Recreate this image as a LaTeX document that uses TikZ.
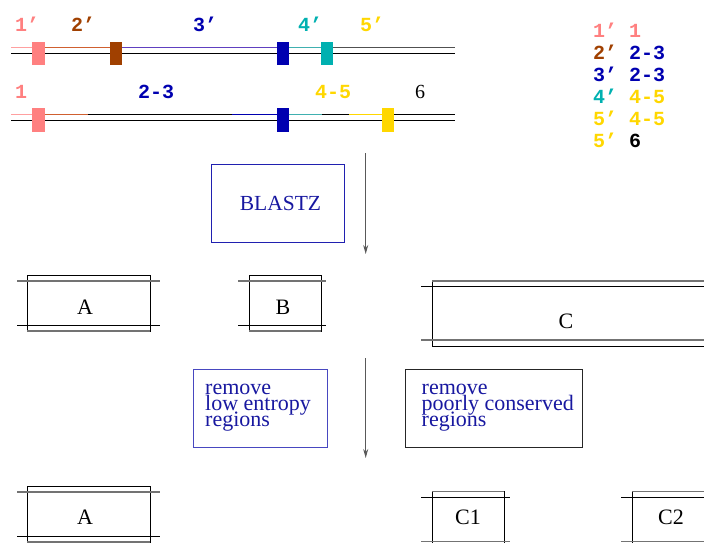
\documentclass[tikz,border=0pt]{standalone}
\usepackage{fontspec}
\setmainfont{Liberation Serif}
\newfontfamily\monofam{Liberation Mono}
\usetikzlibrary{arrows.meta}
\definecolor{cpink}{HTML}{FF8080}
\definecolor{cpinkl}{HTML}{FFA0A0}
\definecolor{cbrown}{HTML}{A04000}
\definecolor{corange}{HTML}{D06030}
\definecolor{cblue}{HTML}{0000B0}
\definecolor{cpurple}{HTML}{6040C0}
\definecolor{cteal}{HTML}{00B0B0}
\definecolor{ctealline}{HTML}{40B0B0}
\definecolor{cgold}{HTML}{FFD700}
\definecolor{cdgray}{HTML}{505050}
\definecolor{txtblue}{HTML}{1818A0}
\definecolor{boxblue}{HTML}{2020B0}
\definecolor{boxblue2}{HTML}{4848C0}
\begin{document}
\begin{tikzpicture}[x=1pt,y=-1pt,
  lbl/.style={font=\monofam\bfseries\fontsize{20}{20}\selectfont, anchor=base west, inner sep=0pt},
  sertxt/.style={font=\fontsize{22}{22}\selectfont, inner sep=0pt},
  seg/.style={line width=1pt},
  blk/.style={fill, inner sep=0pt, minimum width=12.5pt, minimum height=23.3pt},
  thinbox/.style={draw=black, line width=0.8pt, inner sep=0pt},
  grayline/.style={draw=black!55, line width=1.4pt},
  blackline/.style={draw=black, line width=0.8pt},
  flowarrow/.style={draw=black!65, line width=1.1pt, -{Stealth[length=9pt,width=5pt]}},
  procbox/.style={line width=0.9pt, inner sep=0pt},
  proctxt/.style={font={\fontsize{22}{16}\selectfont\lineskiplimit=-50pt}, text=txtblue, align=left, anchor=west, inner sep=0pt}
]
\path[use as bounding box] (0,0) rectangle (704,543);
\clip (0,0) rectangle (704,543);

% ---------------- sequence 1 ----------------
\draw[seg, black] (11,53.3) -- (455,53.3);
\draw[seg, cpinkl] (11,47.7) -- (33,47.7);
\draw[seg, corange] (44,47.7) -- (110,47.7);
\draw[seg, cpurple] (122,47.7) -- (277,47.7);
\draw[seg, ctealline] (289,47.7) -- (321,47.7);
\draw[seg, cdgray] (333,47.7) -- (455,47.7);
\node[blk, fill=cpink] (m1) at (38.7,53.3) {};
\node[blk, fill=cbrown] (m2) at (116.2,53.3) {};
\node[blk, fill=cblue] (m3) at (283,53.3) {};
\node[blk, fill=cteal] (m4) at (327,53.3) {};
\node[lbl, text=cpink] (l1) at (15,32) {1’};
\node[lbl, text=cbrown] (l2) at (71,32) {2’};
\node[lbl, text=cblue] (l3) at (193,32) {3’};
\node[lbl, text=cteal] (l4) at (298,32) {4’};
\node[lbl, text=cgold] (l5) at (360,32) {5’};

% ---------------- sequence 2 ----------------
\draw[seg, black] (11,120) -- (455,120);
\draw[seg, cpinkl] (11,114.3) -- (33,114.3);
\draw[seg, corange] (44,114.3) -- (88,114.3);
\draw[seg, black] (88,114.3) -- (232,114.3);
\draw[seg, cblue] (232,114.3) -- (277,114.3);
\draw[seg, ctealline] (289,114.3) -- (322,114.3);
\draw[seg, black] (322,114.3) -- (349,114.3);
\draw[seg, cgold] (349,114.3) -- (382,114.3);
\draw[seg, black] (394,114.3) -- (455,114.3);
\node[blk, fill=cpink] (n1) at (38.7,120) {};
\node[blk, fill=cblue] (n3) at (283,120) {};
\node[blk, fill=cgold] (n5) at (388,120) {};
\node[lbl, text=cpink] (k1) at (15,99) {1};
\node[lbl, text=cblue] (k23) at (138,99) {2-3};
\node[lbl, text=cgold] (k45) at (315,99) {4-5};
\node[font=\fontsize{20}{20}\selectfont, anchor=base west, inner sep=0pt] (k6) at (415,99) {6};

% ---------------- legend ----------------
\node[lbl] (g1) at (593,37.3) {\textcolor{cpink}{1’ 1}};
\node[lbl] (g2) at (593,59.3) {\textcolor{cbrown}{2’} \textcolor{cblue}{2-3}};
\node[lbl] (g3) at (593,81.3) {\textcolor{cblue}{3’ 2-3}};
\node[lbl] (g4) at (593,103.3) {\textcolor{cteal}{4’} \textcolor{cgold}{4-5}};
\node[lbl] (g5) at (593,125.3) {\textcolor{cgold}{5’ 4-5}};
\node[lbl] (g6) at (593,147.3) {\textcolor{cgold}{5’} \textcolor{black}{6}};

% ---------------- BLASTZ ----------------
\node[procbox, draw=boxblue, minimum width=133pt, minimum height=78pt, text=txtblue, font=\fontsize{21.5}{21.5}\selectfont] (blastz) at (277.5,203) {\hspace*{6pt}BLASTZ};
\coordinate (a1s) at (365.7,153);
\coordinate (a1e) at (365.7,254);
\draw[flowarrow] (a1s) -- (a1e);

% ---------------- row A B C ----------------
\node[thinbox, minimum width=123pt, minimum height=56pt] (bA) at (88.5,303) {};
\draw[grayline] (17,281) -- (160,281);
\draw[blackline] (17,325) -- (160,325);
\draw[grayline] (27,331) -- (150,331);
\node[sertxt] (tA) at (85,307) {A};

\node[thinbox, minimum width=72pt, minimum height=56pt] (bB) at (285,303) {};
\draw[grayline] (238,281) -- (326,281);
\draw[blackline] (238,325) -- (326,325);
\draw[grayline] (249,331) -- (321,331);
\node[sertxt] (tB) at (283,307) {B};

\node[thinbox, minimum width=288pt, minimum height=65pt] (bC) at (576,313.5) {};
\draw[grayline] (432,281) -- (704,281);
\draw[blackline] (421,286) -- (704,286);
\draw[grayline] (421,340) -- (704,340);
\node[sertxt] (tC) at (566,321.7) {C};

% ---------------- filters ----------------
\node[procbox, draw=boxblue2, minimum width=134pt, minimum height=78pt] (lowent) at (260,408) {};
\node[proctxt] (lowtxt) at (205,408) {remove\\low entropy\\regions};
\node[procbox, draw=black!85, minimum width=177pt, minimum height=78pt] (poor) at (493.5,408) {};
\node[proctxt] (poortxt) at (421.5,408) {remove\\poorly conserved\\regions};
\coordinate (a2s) at (365.7,358);
\coordinate (a2e) at (365.7,458);
\draw[flowarrow] (a2s) -- (a2e);

% ---------------- row A C1 C2 ----------------
\node[thinbox, minimum width=123pt, minimum height=56pt] (bA2) at (88.5,514) {};
\draw[grayline] (17,492) -- (160,492);
\draw[blackline] (17,536.5) -- (160,536.5);
\draw[grayline] (27,542) -- (150,542);
\node[sertxt] (tA2) at (85,517.7) {A};

\node[thinbox, minimum width=72pt, minimum height=66.3pt] (bC1) at (468,524.85) {};
\draw[grayline] (432,491.7) -- (504,491.7);
\draw[blackline] (421,497.7) -- (510,497.7);
\draw[grayline] (421,541.7) -- (510,541.7);
\node[sertxt] (tC1) at (468,517.7) {C1};

\node[thinbox, minimum width=88pt, minimum height=66.3pt] (bC2) at (676,524.85) {};
\draw[grayline] (632,491.7) -- (704,491.7);
\draw[blackline] (621,497.7) -- (704,497.7);
\draw[grayline] (621,541.7) -- (704,541.7);
\node[sertxt] (tC2) at (671,517.7) {C2};
\end{tikzpicture}
\end{document}
